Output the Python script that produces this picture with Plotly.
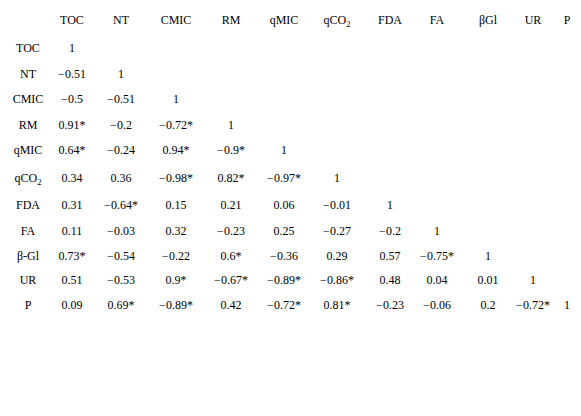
import plotly.graph_objects as go

variables = ["TOC", "NT", "CMIC", "RM", "qMIC", "qCO<sub>2</sub>", "FDA", "FA", "βGl", "UR", "P"]
row_labels = ["TOC", "NT", "CMIC", "RM", "qMIC", "qCO<sub>2</sub>", "FDA", "FA", "β-Gl", "UR", "P"]
rows = [
    ["1"],
    ["-0.51", "1"],
    ["-0.5", "-0.51", "1"],
    ["0.91*", "-0.2", "-0.72*", "1"],
    ["0.64*", "-0.24", "0.94*", "-0.9*", "1"],
    ["0.34", "0.36", "-0.98*", "0.82*", "-0.97*", "1"],
    ["0.31", "-0.64*", "0.15", "0.21", "0.06", "-0.01", "1"],
    ["0.11", "-0.03", "0.32", "-0.23", "0.25", "-0.27", "-0.2", "1"],
    ["0.73*", "-0.54", "-0.22", "0.6*", "-0.36", "0.29", "0.57", "-0.75*", "1"],
    ["0.51", "-0.53", "0.9*", "-0.67*", "-0.89*", "-0.86*", "0.48", "0.04", "0.01", "1"],
    ["0.09", "0.69*", "-0.89*", "0.42", "-0.72*", "0.81*", "-0.23", "-0.06", "0.2", "-0.72*", "1"],
]
col_px = [20, 64, 113, 168, 223, 276, 329, 382, 429, 480, 525, 559]
row_px = [13, 41, 67, 92, 118, 143, 171, 198, 224, 249, 273, 298]

xs, ys, ts = [], [], []
for j, v in enumerate(variables):
    xs.append(col_px[j + 1]); ys.append(row_px[0]); ts.append(v)
for i, lab in enumerate(row_labels):
    xs.append(col_px[0]); ys.append(row_px[i + 1]); ts.append(lab)
    for j, val in enumerate(rows[i]):
        xs.append(col_px[j + 1]); ys.append(row_px[i + 1]); ts.append(val.replace("-", "−"))

fig = go.Figure(go.Scatter(x=xs, y=ys, text=ts, mode="text", textposition="middle center",
                           cliponaxis=False,
                           textfont=dict(family="Liberation Serif", size=12, color="black"),
                           hoverinfo="skip"))
fig.update_layout(width=581, height=416, margin=dict(l=0, r=0, t=0, b=0),
                  plot_bgcolor="white", paper_bgcolor="white", showlegend=False,
                  xaxis=dict(range=[0, 581], visible=False),
                  yaxis=dict(range=[416, 0], visible=False))
fig.write_html("out.html")
